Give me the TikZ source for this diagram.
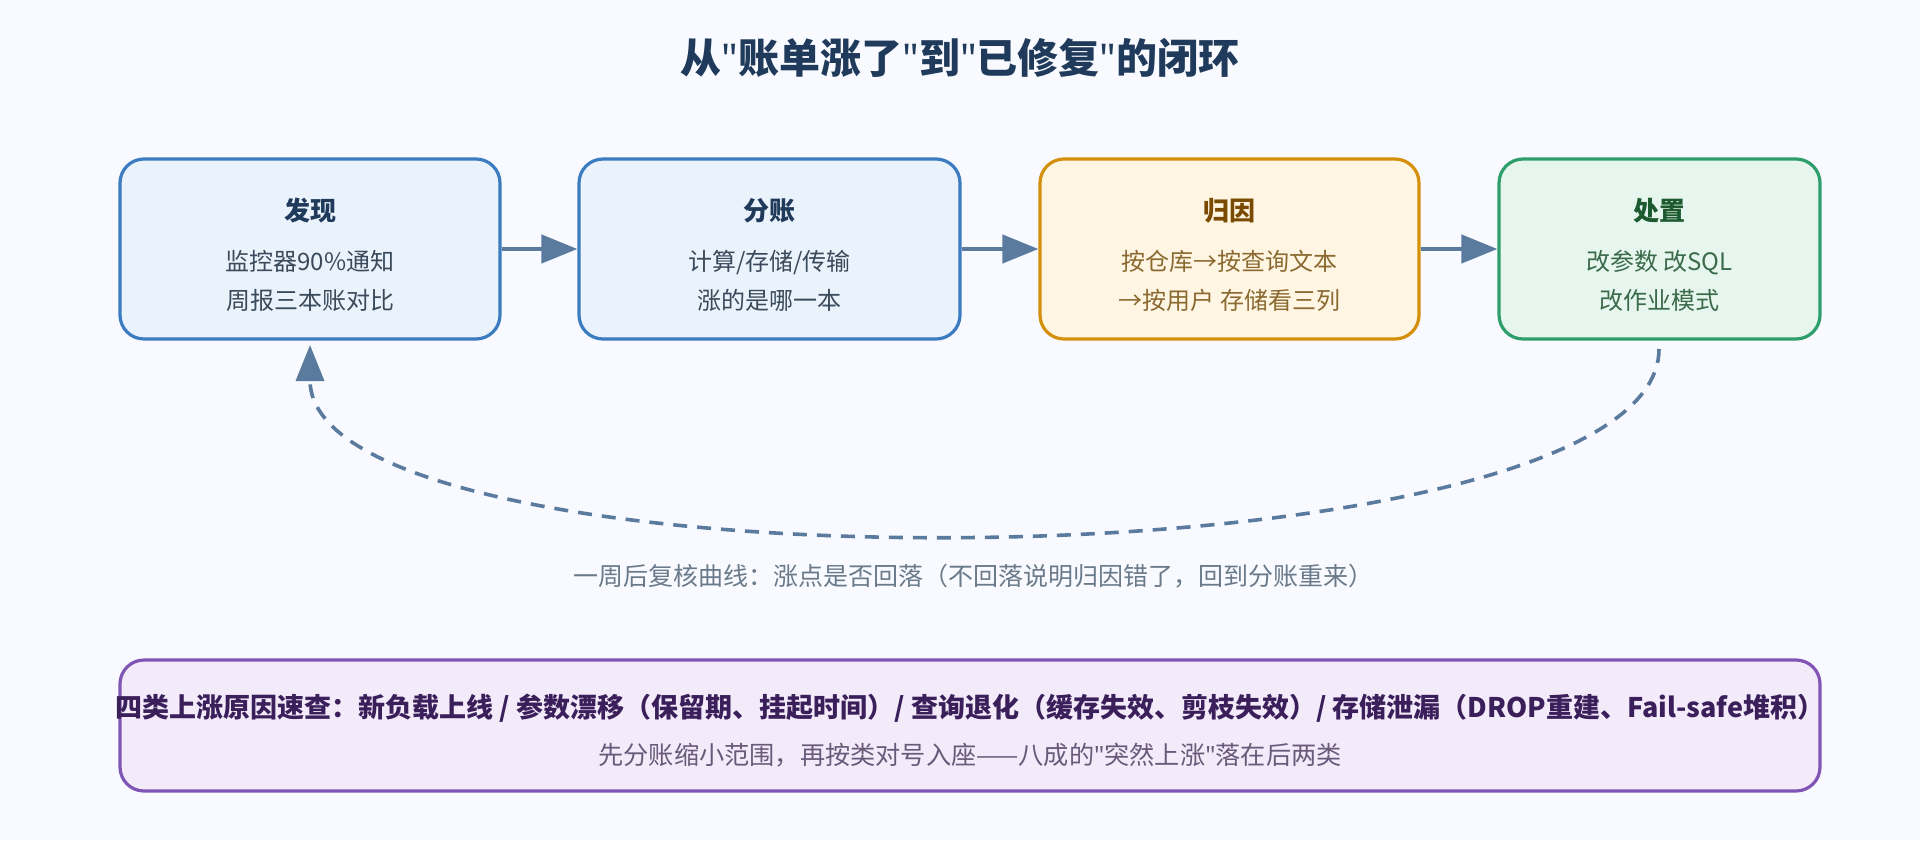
\documentclass[tikz,border=0pt]{standalone}
\usepackage{fontspec}
\setmainfont{Noto Sans CJK SC}
\newfontfamily\qf{Noto Sans}[Ligatures=ResetAll]
\usetikzlibrary{arrows.meta}
\newcommand\qq{{\qf\char34}}
\definecolor{bg}{HTML}{F8FAFF}
\definecolor{bfill}{HTML}{EAF2FC}\definecolor{bline}{HTML}{3B7BC0}
\definecolor{ofill}{HTML}{FFF5E3}\definecolor{oline}{HTML}{D4900A}
\definecolor{gfill}{HTML}{E6F6EE}\definecolor{gline}{HTML}{2E9E6A}
\definecolor{pfill}{HTML}{F3EAFA}\definecolor{pline}{HTML}{8055B5}
\definecolor{arr}{HTML}{5A7A9E}
\definecolor{ttl}{HTML}{1F3A5A}
\definecolor{txt}{HTML}{3A4A5A}
\definecolor{ot}{HTML}{7A4A00}\definecolor{od}{HTML}{8A6A30}
\definecolor{gt}{HTML}{1E5A30}\definecolor{gd}{HTML}{3A6A4A}
\definecolor{pt}{HTML}{3A1F5A}\definecolor{pd}{HTML}{6A5A7A}
\definecolor{cap}{HTML}{6A7A8A}
\tikzset{
 box/.style={rounded corners=12pt,line width=1.6pt,minimum width=#1*0.5pt,minimum height=90pt},
 flow/.style={arr,line width=2.2pt,-{Triangle[length=18pt,width=14pt]}},
 t/.style={font=\fontsize{13}{15}\selectfont\bfseries},
 b/.style={font=\fontsize{12}{19.5}\selectfont},
}
\begin{document}
\begin{tikzpicture}[x=0.5pt,y=-0.5pt]
\fill[bg] (0,0) rectangle (1920,840);
\useasboundingbox (0,0) rectangle (1920,840);
\node[font=\fontsize{20.5}{24}\selectfont\bfseries,text=ttl] (title) at (960,58) {从\qq 账单涨了\qq 到\qq 已修复\qq 的闭环};
\node[box=380,draw=bline,fill=bfill] (b1) at (310,249) {};
\node[box=381,draw=bline,fill=bfill] (b2) at (769.5,249) {};
\node[box=379,draw=oline,fill=ofill] (b3) at (1229.5,249) {};
\node[box=321,draw=gline,fill=gfill] (b4) at (1659.5,249) {};
\node[t,text=ttl] (t1) at (310,211) {发现};
\node[b,text=txt,align=center] (d1) at (310,281) {监控器90\%通知\\周报三本账对比};
\node[t,text=ttl] (t2) at (769.5,211) {分账};
\node[b,text=txt,align=center] (d2) at (769.5,281) {计算/存储/传输\\涨的是哪一本};
\node[t,text=ot] (t3) at (1229.5,211) {归因};
\node[b,text=od,align=center] (d3) at (1229.5,281) {按仓库→按查询文本\\→按用户 存储看三列};
\node[t,text=gt] (t4) at (1659.5,211) {处置};
\node[b,text=gd,align=center] (d4) at (1659.5,281) {改参数 改SQL\\改作业模式};
\draw[flow] (b1.east) -- (b2.west);
\draw[flow] (b2.east) -- (b3.west);
\draw[flow] (b3.east) -- (b4.west);
\coordinate (s) at (1659,349);
\coordinate (e) at (310,345);
\draw[arr,line width=1.8pt,dash pattern=on 7pt off 5pt,-{Triangle[length=18pt,width=14pt]}] (s) .. controls (1659,590) and (310,600) .. (e);
\node[font=\fontsize{12.5}{15}\selectfont,text=cap] (capt) at (973,576) {一周后复核曲线：涨点是否回落（不回落说明归因错了，回到分账重来）};
\node[box=1700,draw=pline,fill=pfill,minimum height=65.5pt] (bot) at (970,725.5) {};
\node[font=\fontsize{13.5}{16}\selectfont\bfseries,text=pt] (bt) at (970,708) {四类上涨原因速查：新负载上线 / 参数漂移（保留期、挂起时间）/ 查询退化（缓存失效、剪枝失效）/ 存储泄漏（DROP重建、Fail-safe堆积）};
\node[font=\fontsize{12.6}{15}\selectfont,text=pd] (bs) at (970,755) {先分账缩小范围，再按类对号入座——八成的\qq 突然上涨\qq 落在后两类};
\end{tikzpicture}
\end{document}
